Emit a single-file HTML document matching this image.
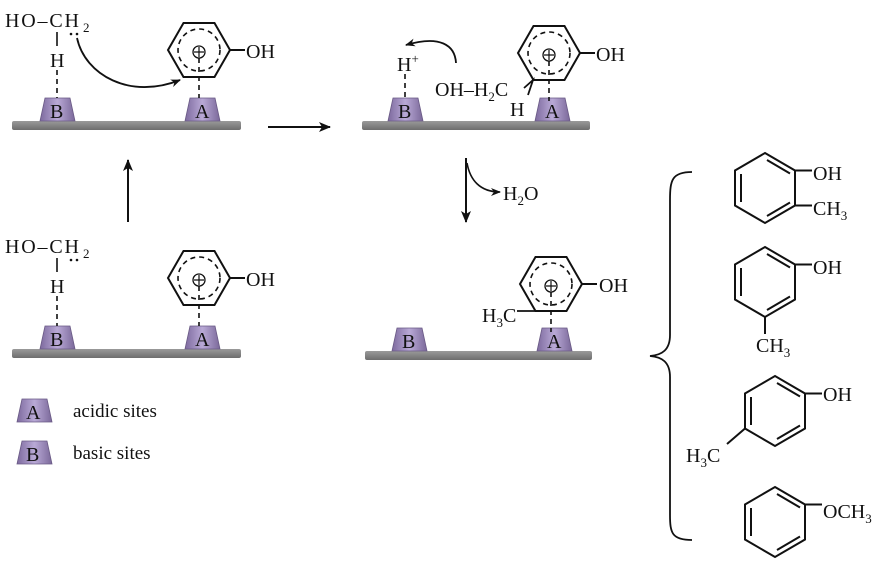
<!DOCTYPE html>
<html><head><meta charset="utf-8"><style>
html,body{margin:0;padding:0;background:#fff;}
svg text{font-family:"Liberation Serif","DejaVu Serif",serif;font-size:20px;fill:#111;}
svg text .s,svg text.s{font-size:13px;}
</style></head><body>
<svg width="886" height="569" viewBox="0 0 886 569" xmlns="http://www.w3.org/2000/svg">
<defs>
<linearGradient id="tg" x1="0" y1="0" x2="1" y2="0">
<stop offset="0" stop-color="#7d6a9e"/><stop offset="0.5" stop-color="#b9a9d6"/><stop offset="1" stop-color="#7a6899"/>
</linearGradient>
<linearGradient id="bg" x1="0" y1="0" x2="0" y2="1">
<stop offset="0" stop-color="#9a9a9a"/><stop offset="1" stop-color="#6e6e6e"/>
</linearGradient>
<g id="trap"><path d="M0,23 L5,0 L30,0 L35,23 Z" fill="url(#tg)" stroke="#6a5a85" stroke-width="0.8"/></g>
<g id="ring" fill="none" stroke="#111" stroke-width="2">
<path d="M-15.5,-27 L15.5,-27 L31,0 L15.5,27 L-15.5,27 L-31,0 Z"/>
<circle r="21" stroke-dasharray="5,4" stroke-width="1.6"/>
<circle cy="2" r="6" stroke-width="1.3"/><path d="M-5,2 H5 M0,-3 V7" stroke-width="1.2"/>
<path d="M0,8 V48" stroke-dasharray="5,4" stroke-width="1.6"/>
<path d="M31,0 H46"/>
</g>
<marker id="ah" markerWidth="10" markerHeight="8" refX="9" refY="4" orient="auto" markerUnits="userSpaceOnUse">
<path d="M0,0 L10,4 L0,8 L3,4 Z" fill="#111"/></marker>
<marker id="ah2" markerWidth="12" markerHeight="10" refX="11" refY="5" orient="auto" markerUnits="userSpaceOnUse">
<path d="M0,0 L12,5 L0,10 L3,5 Z" fill="#111"/></marker>
</defs>

<!-- Panel 1 -->
<rect x="12" y="121" width="229" height="9" rx="2" fill="url(#bg)"/>
<use href="#trap" x="40" y="98"/><use href="#trap" x="185" y="98"/>
<text x="50" y="118">B</text><text x="195" y="118">A</text>
<text x="5" y="27" textLength="74" lengthAdjust="spacing">HO–CH</text>
<text class="s" x="83" y="32">2</text>
<circle cx="71" cy="34" r="1.3" fill="#111"/><circle cx="77" cy="34" r="1.3" fill="#111"/>
<path d="M57,32 V46" stroke="#111" stroke-width="1.6"/>
<text x="50" y="67">H</text>
<path d="M57,70 V98" stroke="#111" stroke-width="1.6" stroke-dasharray="5,4"/>
<use href="#ring" x="199" y="50"/>
<text x="246" y="58">OH</text>
<path d="M77,38 C85,75 130,100 180,80" fill="none" stroke="#111" stroke-width="1.8" marker-end="url(#ah)"/>

<path d="M268,127 H330" stroke="#111" stroke-width="2" marker-end="url(#ah2)"/>

<!-- Panel 2 -->
<rect x="362" y="121" width="228" height="9" rx="2" fill="url(#bg)"/>
<use href="#trap" x="388" y="98"/><use href="#trap" x="535" y="98"/>
<text x="398" y="118">B</text><text x="545" y="118">A</text>
<text x="397" y="71">H<tspan class="s" dy="-8">+</tspan></text>
<path d="M405,74 V98" stroke="#111" stroke-width="1.6" stroke-dasharray="5,4"/>
<use href="#ring" x="549" y="53"/>
<text x="596" y="61">OH</text>
<text x="435" y="96">OH–H<tspan class="s" dy="5">2</tspan><tspan dy="-5">C</tspan></text>
<path d="M524,88 L533,80 L528,95" fill="none" stroke="#111" stroke-width="1.8"/>
<text x="510" y="116">H</text>
<path d="M456,63 C455,45 440,35 406,45" fill="none" stroke="#111" stroke-width="1.8" marker-end="url(#ah)"/>

<path d="M466,158 V222" stroke="#111" stroke-width="2" marker-end="url(#ah2)"/>
<path d="M467,163 C470,180 480,192 500,192" fill="none" stroke="#111" stroke-width="1.6" marker-end="url(#ah)"/>
<text x="503" y="200">H<tspan class="s" dy="5">2</tspan><tspan dy="-5">O</tspan></text>

<!-- Panel 3 -->
<rect x="365" y="351" width="227" height="9" rx="2" fill="url(#bg)"/>
<use href="#trap" x="392" y="328"/><use href="#trap" x="537" y="328"/>
<text x="402" y="348">B</text><text x="547" y="348">A</text>
<use href="#ring" x="551" y="284"/>
<text x="599" y="292">OH</text>
<text x="482" y="322">H<tspan class="s" dy="5">3</tspan><tspan dy="-5">C</tspan></text>
<path d="M517,311 H535" stroke="#111" stroke-width="1.8"/>

<path d="M128,222 V160" stroke="#111" stroke-width="2" marker-end="url(#ah2)"/>

<!-- Panel 4 -->
<rect x="12" y="349" width="229" height="9" rx="2" fill="url(#bg)"/>
<use href="#trap" x="40" y="326"/><use href="#trap" x="185" y="326"/>
<text x="50" y="346">B</text><text x="195" y="346">A</text>
<text x="5" y="253" textLength="74" lengthAdjust="spacing">HO–CH</text>
<text class="s" x="83" y="258">2</text>
<circle cx="71" cy="260" r="1.3" fill="#111"/><circle cx="77" cy="260" r="1.3" fill="#111"/>
<path d="M57,258 V272" stroke="#111" stroke-width="1.6"/>
<text x="50" y="293">H</text>
<path d="M57,296 V326" stroke="#111" stroke-width="1.6" stroke-dasharray="5,4"/>
<use href="#ring" x="199" y="278"/>
<text x="246" y="286">OH</text>

<!-- Legend -->
<use href="#trap" x="17" y="399"/><text x="26" y="419">A</text>
<text x="73" y="417" style="font-size:19px">acidic sites</text>
<use href="#trap" x="17" y="441"/><text x="26" y="461">B</text>
<text x="73" y="459" style="font-size:19px">basic sites</text>

<!-- Brace -->
<path d="M692,172 C672,172 670,180 670,200 L670,335 C670,350 662,355 650,356 C662,357 670,362 670,377 L670,515 C670,533 672,540 692,540" fill="none" stroke="#111" stroke-width="1.8"/>

<g fill="none" stroke="#111" stroke-width="2">
<path d="M765,153 L795,170.5 L795,205.5 L765,223 L735,205.5 L735,170.5 Z"/>
<path d="M767,160 L790,173.5 M741,174 L741,202 M767,216 L790,202.5"/>
<path d="M795,170.5 H812 M795,205.5 H812"/>
<path d="M765,247 L795,264.5 L795,299.5 L765,317 L735,299.5 L735,264.5 Z"/>
<path d="M767,254 L790,267.5 M741,268 L741,296 M767,310 L790,296.5"/>
<path d="M795,264.5 H812 M765,317 V334"/>
<path d="M775,376 L805,393.5 L805,428.5 L775,446 L745,428.5 L745,393.5 Z"/>
<path d="M777,383 L800,396.5 M751,397 L751,425 M777,439 L800,425.5"/>
<path d="M805,393.5 H822 M745,428.5 L727,444"/>
<path d="M775,487 L805,504.5 L805,539.5 L775,557 L745,539.5 L745,504.5 Z"/>
<path d="M777,494 L800,507.5 M751,508 L751,536 M777,550 L800,536.5"/>
<path d="M805,504.5 H822"/>
</g>
<text x="813" y="180">OH</text>
<text x="813" y="215">CH<tspan class="s" dy="5">3</tspan></text>
<text x="813" y="274">OH</text>
<text x="756" y="352">CH<tspan class="s" dy="5">3</tspan></text>
<text x="823" y="401">OH</text>
<text x="686" y="462">H<tspan class="s" dy="5">3</tspan><tspan dy="-5">C</tspan></text>
<text x="823" y="518">OCH<tspan class="s" dy="5">3</tspan></text>
</svg>
</body></html>
